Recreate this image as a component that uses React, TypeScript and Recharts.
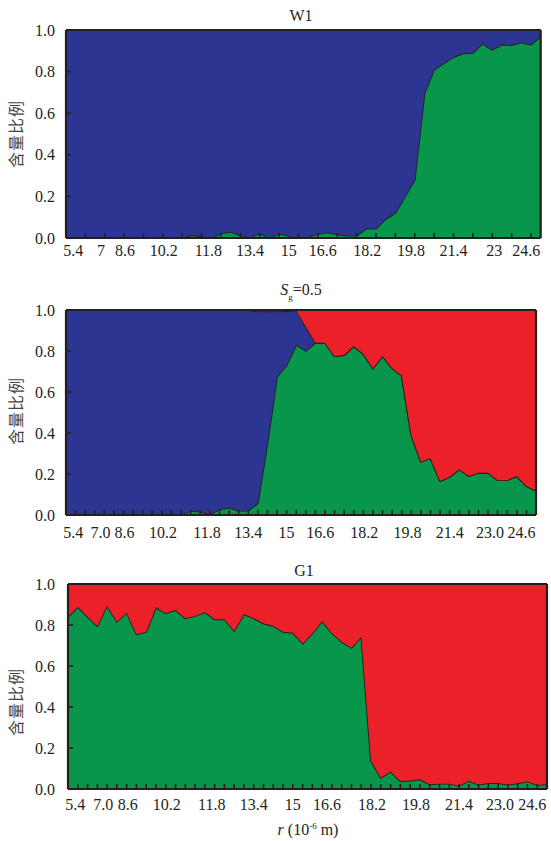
import React from 'react';
import { AreaChart, Area, XAxis, YAxis } from 'recharts';

// particle radius r (10^-6 m), one value per sample
const radius = [
  5.4, 5.8, 6.2, 6.6, 7.0, 7.4, 7.8, 8.2, 8.6, 9.0, 9.4, 9.8, 10.2, 10.6, 11.0, 11.4, 11.8,
  12.2, 12.6, 13.0, 13.4, 13.8, 14.2, 14.6, 15.0, 15.4, 15.8, 16.2, 16.6, 17.0, 17.4, 17.8,
  18.2, 18.6, 19.0, 19.4, 19.8, 20.2, 20.6, 21.0, 21.4, 21.8, 22.2, 22.6, 23.0, 23.4, 23.8,
  24.2, 24.6, 25.0,
];

// W1 panel
const w1Green = [
  0, 0, 0, 0, 0, 0, 0, 0, 0, 0, 0, 0, 0, 0.014, 0.008, 0, 0.022, 0.03, 0.011, 0.003, 0.022, 0,
  0.022, 0.01, 0, 0.005, 0.02, 0.027, 0.018, 0.011, 0.011, 0.046, 0.045, 0.092, 0.12, 0.2, 0.28,
  0.695, 0.81, 0.84, 0.87, 0.888, 0.89, 0.935, 0.904, 0.93, 0.928, 0.94, 0.93, 0.968,
];
const w1Blue = [
  1, 1, 1, 1, 1, 1, 1, 1, 1, 1, 1, 1, 1, 0.986, 0.992, 1, 0.978, 0.97, 0.989, 0.997, 0.978, 1,
  0.978, 0.99, 1, 0.995, 0.98, 0.973, 0.982, 0.989, 0.989, 0.954, 0.955, 0.908, 0.88, 0.8, 0.72,
  0.305, 0.19, 0.16, 0.13, 0.112, 0.11, 0.065, 0.096, 0.07, 0.072, 0.06, 0.07, 0.032,
];

// Sg = 0.5 panel
const sgGreen = [
  0, 0, 0, 0, 0, 0, 0, 0, 0, 0, 0, 0, 0, 0.02, 0.016, 0.003, 0.028, 0.036, 0.021, 0.021, 0.057,
  0.35, 0.675, 0.73, 0.83, 0.8, 0.84, 0.84, 0.775, 0.78, 0.824, 0.785, 0.716, 0.776, 0.716, 0.68,
  0.39, 0.26, 0.277, 0.166, 0.187, 0.223, 0.19, 0.206, 0.206, 0.17, 0.17, 0.19, 0.141, 0.119,
];
const sgBlue = [
  1, 1, 1, 1, 1, 1, 1, 1, 1, 1, 1, 1, 1, 0.98, 0.984, 0.997, 0.972, 0.964, 0.979, 0.979, 0.937,
  0.644, 0.319, 0.265, 0.168, 0.12, 0, 0, 0, 0, 0, 0, 0, 0, 0, 0, 0, 0, 0, 0, 0, 0, 0, 0, 0, 0, 0,
  0, 0, 0,
];
const sgRed = [
  0, 0, 0, 0, 0, 0, 0, 0, 0, 0, 0, 0, 0, 0, 0, 0, 0, 0, 0, 0, 0.006, 0.006, 0.006, 0.005, 0.002,
  0.08, 0.16, 0.16, 0.225, 0.22, 0.176, 0.215, 0.284, 0.224, 0.284, 0.32, 0.61, 0.74, 0.723,
  0.834, 0.813, 0.777, 0.81, 0.794, 0.794, 0.83, 0.83, 0.81, 0.859, 0.881,
];

// G1 panel
const g1Green = [
  0.84, 0.889, 0.84, 0.795, 0.893, 0.816, 0.86, 0.755, 0.767, 0.886, 0.857, 0.873, 0.833, 0.844,
  0.862, 0.828, 0.828, 0.771, 0.852, 0.833, 0.808, 0.795, 0.767, 0.762, 0.71, 0.759, 0.82, 0.76,
  0.718, 0.689, 0.743, 0.137, 0.055, 0.085, 0.039, 0.041, 0.047, 0.023, 0.026, 0.026, 0.016, 0.04,
  0.021, 0.029, 0.029, 0.021, 0.028, 0.037, 0.02, 0.023,
];
const g1Red = [
  0.16, 0.111, 0.16, 0.205, 0.107, 0.184, 0.14, 0.245, 0.233, 0.114, 0.143, 0.127, 0.167, 0.156,
  0.138, 0.172, 0.172, 0.229, 0.148, 0.167, 0.192, 0.205, 0.233, 0.238, 0.29, 0.241, 0.18, 0.24,
  0.282, 0.311, 0.257, 0.863, 0.945, 0.915, 0.961, 0.959, 0.953, 0.977, 0.974, 0.974, 0.984, 0.96,
  0.979, 0.971, 0.971, 0.979, 0.972, 0.963, 0.98, 0.977,
];

// tick labels
const labelsW1 = ['5.4', '7', '8.6', '10.2', '11.8', '13.4', '15', '16.6', '18.2', '19.8', '21.4', '23', '24.6'];
const labelsOther = ['5.4', '7.0', '8.6', '10.2', '11.8', '13.4', '15', '16.6', '18.2', '19.8', '21.4', '23.0', '24.6'];
const yTicks = [0, 0.2, 0.4, 0.6, 0.8, 1.0];

// layout (positions of the printed labels along the sample index axis)
const labelPos = [0.75, 3.6, 6.1, 10.1, 14.7, 19.0, 23.0, 26.5, 31.1, 35.6, 40.0, 44.2, 47.5];
const lastIdx = radius.length - 1;
const everyTick = Array.from({ length: lastIdx - 1 }, (_, k) => k + 1);
const everyOtherTick = Array.from({ length: Math.floor((lastIdx - 1) / 2) }, (_, k) => 2 * (k + 1));

const INK = '#231f20';
const BLUE = '#2d3592';
const GREEN = '#07964a';
const RED = '#ec2029';
const SERIF = '"Liberation Serif", "Times New Roman", serif';
const CJK = '"Noto Sans CJK SC", sans-serif';

const EmptyTick = () => <g />;

function rows(cols: Record<string, number[]>) {
  return radius.map((r, i) => {
    const row: Record<string, number> = { i, r };
    Object.keys(cols).forEach((k) => {
      row[k] = cols[k][i];
    });
    return row;
  });
}

type Series = { key: string; color: string };
type Margin = { top: number; right: number; bottom: number; left: number };

function Panel(props: {
  top: number;
  height: number;
  margin: Margin;
  data: Record<string, number>[];
  series: Series[];
  ticks: number[];
  labels: string[];
  labelMargin: number;
  yTickMargin: number;
}) {
  const { top, height, margin, data, series, ticks, labels, labelMargin, yTickMargin } = props;
  const tickFont = { fill: INK, fontSize: 16, fontFamily: SERIF };
  return (
    <div style={{ position: 'absolute', left: 0, top, width: 551, height }}>
      <AreaChart width={551} height={height} data={data} margin={margin}>
        {series.map((s) => (
          <Area
            key={s.key}
            xAxisId={0}
            yAxisId={0}
            dataKey={s.key}
            stackId="a"
            type="linear"
            fill={s.color}
            fillOpacity={1}
            stroke={INK}
            strokeWidth={1.8}
            dot={false}
            activeDot={false}
            isAnimationActive={false}
          />
        ))}
        <XAxis
          xAxisId={0}
          dataKey="i"
          type="number"
          domain={[0, lastIdx]}
          allowDataOverflow
          ticks={ticks}
          interval={0}
          tick={EmptyTick}
          tickSize={-5}
          tickLine={{ stroke: INK, strokeWidth: 1.6 }}
          axisLine={{ stroke: INK, strokeWidth: 2.2 }}
          height={1}
        />
        <XAxis
          xAxisId="lab"
          dataKey="i"
          type="number"
          domain={[0, lastIdx]}
          allowDataOverflow
          ticks={labelPos}
          interval={0}
          tickFormatter={(_v: number, idx: number) => labels[idx]}
          tick={tickFont}
          tickLine={false}
          axisLine={false}
          tickSize={0}
          tickMargin={labelMargin}
          height={1}
        />
        <XAxis
          xAxisId="top"
          orientation="top"
          dataKey="i"
          type="number"
          domain={[0, lastIdx]}
          allowDataOverflow
          tick={EmptyTick}
          tickLine={false}
          axisLine={{ stroke: INK, strokeWidth: 2.2 }}
          height={1}
        />
        <YAxis
          yAxisId={0}
          type="number"
          domain={[0, 1]}
          allowDataOverflow
          ticks={yTicks}
          interval={0}
          tickFormatter={(v: number) => v.toFixed(1)}
          tick={tickFont}
          tickSize={-5}
          tickMargin={yTickMargin}
          tickLine={{ stroke: INK, strokeWidth: 1.6 }}
          axisLine={{ stroke: INK, strokeWidth: 2.2 }}
          width={1}
        />
        <YAxis
          yAxisId="r"
          orientation="right"
          type="number"
          domain={[0, 1]}
          allowDataOverflow
          tick={EmptyTick}
          tickLine={false}
          axisLine={{ stroke: INK, strokeWidth: 2.2 }}
          width={1}
        />
      </AreaChart>
    </div>
  );
}

const centered = (x: number, y: number): React.CSSProperties => ({
  position: 'absolute',
  left: x,
  top: y,
  transform: 'translate(-50%, -50%)',
  whiteSpace: 'nowrap',
  lineHeight: 1,
  fontFamily: SERIF,
  fontSize: 16,
  color: INK,
});

const yTitle = (x: number, y: number): React.CSSProperties => ({
  position: 'absolute',
  left: x,
  top: y,
  transform: 'translate(-50%, -50%) rotate(-90deg)',
  whiteSpace: 'nowrap',
  lineHeight: 1,
  fontFamily: CJK,
  fontSize: 16,
  letterSpacing: 1,
  color: '#444',
});

export default function App() {
  const dW1 = rows({ green: w1Green, blue: w1Blue });
  const dSg = rows({ green: sgGreen, blue: sgBlue, red: sgRed });
  const dG1 = rows({ green: g1Green, red: g1Red });
  return (
    <div style={{ position: 'absolute', left: 0, top: 0, width: 551, height: 841, background: '#fff' }}>
      <Panel
        top={0}
        height={262}
        margin={{ top: 29, right: 9.3, bottom: 22, left: 65 }}
        data={dW1}
        series={[
          { key: 'green', color: GREEN },
          { key: 'blue', color: BLUE },
        ]}
        ticks={everyOtherTick}
        labels={labelsW1}
        labelMargin={6}
        yTickMargin={16}
      />
      <Panel
        top={280}
        height={262}
        margin={{ top: 29, right: 14, bottom: 25, left: 65 }}
        data={dSg}
        series={[
          { key: 'green', color: GREEN },
          { key: 'blue', color: BLUE },
          { key: 'red', color: RED },
        ]}
        ticks={everyTick}
        labels={labelsOther}
        labelMargin={11}
        yTickMargin={16}
      />
      <Panel
        top={555}
        height={262}
        margin={{ top: 28, right: 3, bottom: 26, left: 67 }}
        data={dG1}
        series={[
          { key: 'green', color: GREEN },
          { key: 'red', color: RED },
        ]}
        ticks={everyTick}
        labels={labelsOther}
        labelMargin={9}
        yTickMargin={18}
      />
      <div style={centered(301, 16)}>W1</div>
      <div style={centered(301, 292)}>
        <i>S</i>
        <sub style={{ fontSize: 9 }}>g</sub>=0.5
      </div>
      <div style={centered(304, 571)}>G1</div>
      <div style={centered(308, 830)}>
        <i>r</i> (10<sup style={{ fontSize: 9 }}>-6</sup> m)
      </div>
      <div style={yTitle(15, 134)}>含量比例</div>
      <div style={yTitle(15, 411)}>含量比例</div>
      <div style={yTitle(15, 702)}>含量比例</div>
    </div>
  );
}
